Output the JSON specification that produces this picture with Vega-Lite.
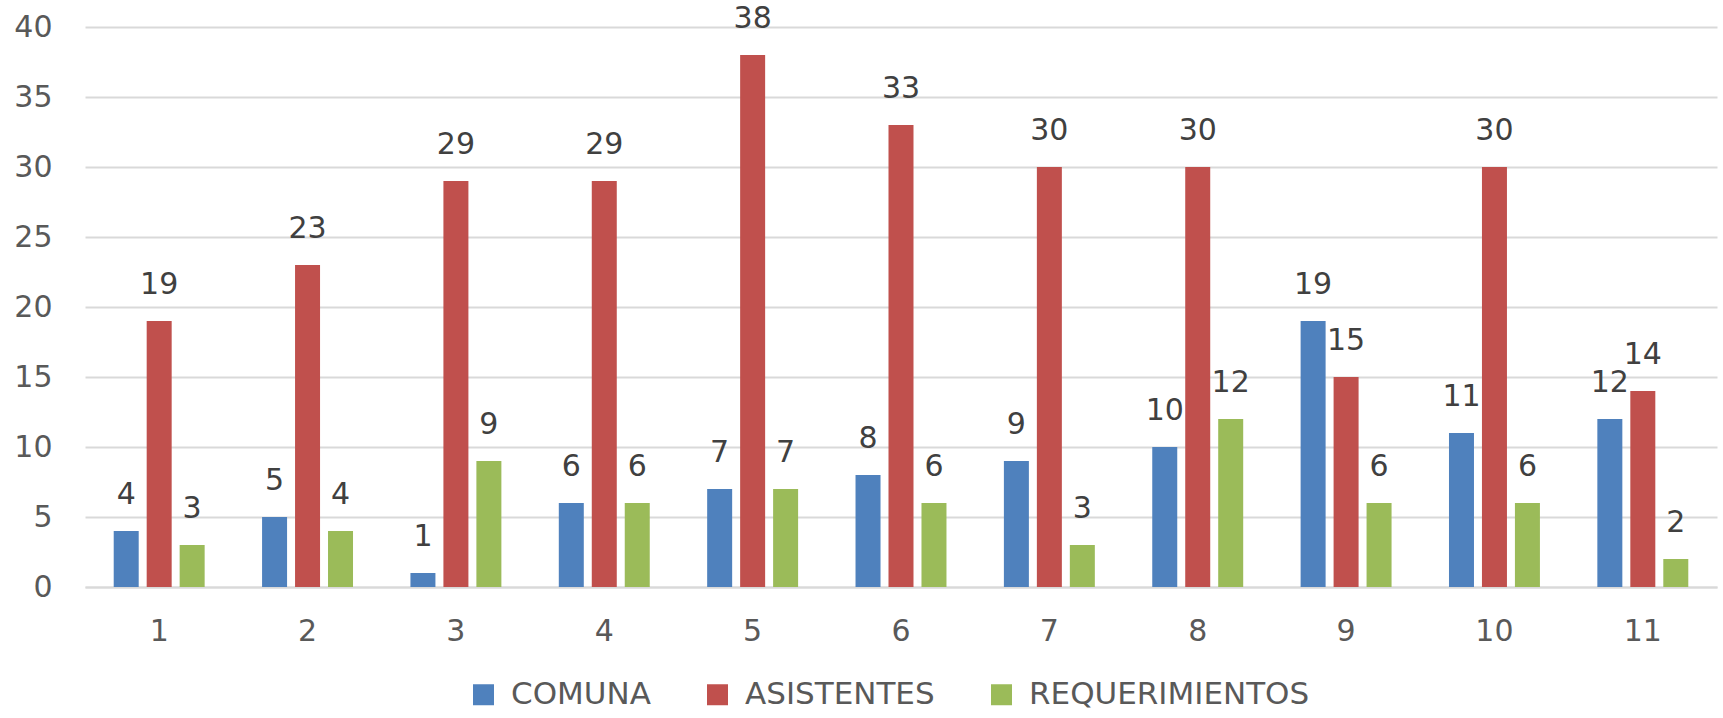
{
  "$schema": "https://vega.github.io/schema/vega-lite/v6.json",
  "width": 1632,
  "height": 560,
  "autosize": "none",
  "padding": {"left": 85, "top": 27, "right": 6, "bottom": 131},
  "background": "white",
  "config": {
    "view": {"stroke": null},
    "font": "DejaVu Sans",
    "axis": {"labelFont": "DejaVu Sans", "labelColor": "#595959", "labelFontSize": 30}
  },
  "data": {
    "values": [
      {"g": "1", "serie": "COMUNA", "valor": 4},
      {"g": "1", "serie": "ASISTENTES", "valor": 19},
      {"g": "1", "serie": "REQUERIMIENTOS", "valor": 3},
      {"g": "2", "serie": "COMUNA", "valor": 5},
      {"g": "2", "serie": "ASISTENTES", "valor": 23},
      {"g": "2", "serie": "REQUERIMIENTOS", "valor": 4},
      {"g": "3", "serie": "COMUNA", "valor": 1},
      {"g": "3", "serie": "ASISTENTES", "valor": 29},
      {"g": "3", "serie": "REQUERIMIENTOS", "valor": 9},
      {"g": "4", "serie": "COMUNA", "valor": 6},
      {"g": "4", "serie": "ASISTENTES", "valor": 29},
      {"g": "4", "serie": "REQUERIMIENTOS", "valor": 6},
      {"g": "5", "serie": "COMUNA", "valor": 7},
      {"g": "5", "serie": "ASISTENTES", "valor": 38},
      {"g": "5", "serie": "REQUERIMIENTOS", "valor": 7},
      {"g": "6", "serie": "COMUNA", "valor": 8},
      {"g": "6", "serie": "ASISTENTES", "valor": 33},
      {"g": "6", "serie": "REQUERIMIENTOS", "valor": 6},
      {"g": "7", "serie": "COMUNA", "valor": 9},
      {"g": "7", "serie": "ASISTENTES", "valor": 30},
      {"g": "7", "serie": "REQUERIMIENTOS", "valor": 3},
      {"g": "8", "serie": "COMUNA", "valor": 10},
      {"g": "8", "serie": "ASISTENTES", "valor": 30},
      {"g": "8", "serie": "REQUERIMIENTOS", "valor": 12},
      {"g": "9", "serie": "COMUNA", "valor": 19},
      {"g": "9", "serie": "ASISTENTES", "valor": 15},
      {"g": "9", "serie": "REQUERIMIENTOS", "valor": 6},
      {"g": "10", "serie": "COMUNA", "valor": 11},
      {"g": "10", "serie": "ASISTENTES", "valor": 30},
      {"g": "10", "serie": "REQUERIMIENTOS", "valor": 6},
      {"g": "11", "serie": "COMUNA", "valor": 12},
      {"g": "11", "serie": "ASISTENTES", "valor": 14},
      {"g": "11", "serie": "REQUERIMIENTOS", "valor": 2}
    ]
  },
  "encoding": {
    "x": {
      "field": "g",
      "type": "ordinal",
      "sort": ["1","2","3","4","5","6","7","8","9","10","11"],
      "scale": {"paddingInner": 0.387, "paddingOuter": 0.1935},
      "axis": {
        "title": null,
        "labelAngle": 0,
        "ticks": false,
        "domain": true,
        "domainColor": "#D9D9D9",
        "domainWidth": 2,
        "labelPadding": 44,
        "labelBaseline": "middle"
      }
    },
    "xOffset": {
      "field": "serie",
      "type": "nominal",
      "sort": ["COMUNA", "ASISTENTES", "REQUERIMIENTOS"],
      "scale": {"paddingInner": 0.242, "paddingOuter": 0}
    },
    "y": {
      "field": "valor",
      "type": "quantitative",
      "scale": {"domain": [0, 40], "nice": false},
      "axis": {
        "title": null,
        "values": [0, 5, 10, 15, 20, 25, 30, 35, 40],
        "labelOverlap": false,
        "ticks": false,
        "domain": false,
        "gridColor": "#D9D9D9",
        "gridWidth": 2,
        "labelPadding": 33,
        "labelBaseline": "middle"
      }
    }
  },
  "layer": [
    {
      "mark": {"type": "bar"},
      "encoding": {
        "color": {
          "field": "serie",
          "type": "nominal",
          "scale": {
            "domain": ["COMUNA", "ASISTENTES", "REQUERIMIENTOS"],
            "range": ["#4F81BD", "#C0504D", "#9BBB59"]
          },
          "legend": {
            "title": null,
            "orient": "none",
            "direction": "horizontal",
            "legendX": 383,
            "legendY": 652,
            "symbolType": "square",
            "symbolSize": 441,
            "symbolStrokeWidth": 0,
            "labelFont": "DejaVu Sans",
            "labelFontSize": 31,
            "labelColor": "#595959",
            "labelLimit": 0,
            "labelOffset": 12,
            "columnPadding": 51,
            "padding": 0
          }
        }
      }
    },
    {
      "mark": {
        "type": "text",
        "baseline": "alphabetic",
        "dy": -27,
        "fontSize": 30,
        "color": "#404040",
        "font": "DejaVu Sans"
      },
      "encoding": {
        "text": {"field": "valor", "type": "quantitative"}
      }
    }
  ]
}
